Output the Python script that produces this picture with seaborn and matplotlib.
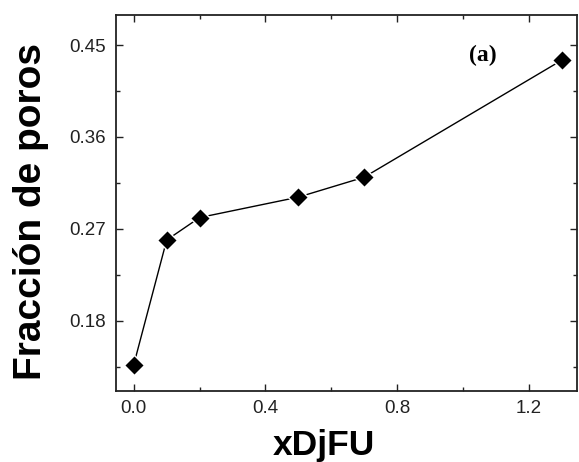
import matplotlib
matplotlib.use("Agg")
import matplotlib.pyplot as plt
import seaborn as sns
import pandas as pd
from matplotlib.ticker import MultipleLocator

# Pore fraction versus xDiFU content
x_difu = [0.0, 0.1, 0.2, 0.5, 0.7, 1.3]
pore_fraction = [0.137, 0.259, 0.281, 0.301, 0.3205, 0.435]

x_ticks = [0.0, 0.4, 0.8, 1.2]
y_ticks = [0.18, 0.27, 0.36, 0.45]

sns.set_style("ticks")
plt.rcParams["font.family"] = ["Liberation Sans", "DejaVu Sans"]

df = pd.DataFrame({"xDiFU": x_difu, "poros": pore_fraction})

fig = plt.figure(figsize=(5.79, 4.62), dpi=100)
ax = fig.add_axes([0.1998, 0.1543, 0.7967, 0.8132])

sns.lineplot(data=df, x="xDiFU", y="poros", ax=ax, color="black",
             linewidth=1.0, marker="D", markersize=10,
             markerfacecolor="black", markeredgecolor="white",
             markeredgewidth=1.0)

ax.set_xlim(-0.055, 1.347)
ax.set_ylim(0.1114, 0.4794)
ax.set_xticks(x_ticks)
ax.set_yticks(y_ticks)
ax.set_xticklabels([f"{v:.1f}" for v in x_ticks])
ax.set_yticklabels([f"{v:.2f}" for v in y_ticks])
ax.xaxis.set_minor_locator(MultipleLocator(0.2))
ax.yaxis.set_minor_locator(MultipleLocator(0.045))

ax.tick_params(which="both", direction="in", top=True, right=True,
               width=1.0, colors="#222222")
ax.tick_params(which="major", length=5, labelsize=13.5, pad=7,
               labelcolor="#222222")
ax.tick_params(which="minor", length=3)
for s in ax.spines.values():
    s.set_linewidth(1.3)
    s.set_color("#222222")

ax.set_xlabel("xDjFU", fontsize=25.5, fontweight="bold", va="center",
              color="black")
ax.set_ylabel("Fracción de poros", fontsize=28, fontweight="bold",
              va="center", color="black")
ax.xaxis.set_label_coords(0.4515, -0.1445)
ax.yaxis.set_label_coords(-0.184, 0.478)

ax.text(0.795, 0.893, "(a)", transform=ax.transAxes, fontsize=17,
        fontweight="bold", family=["Liberation Serif", "DejaVu Serif"],
        ha="center", va="center", color="black")

fig.savefig("out.png", dpi=100)
